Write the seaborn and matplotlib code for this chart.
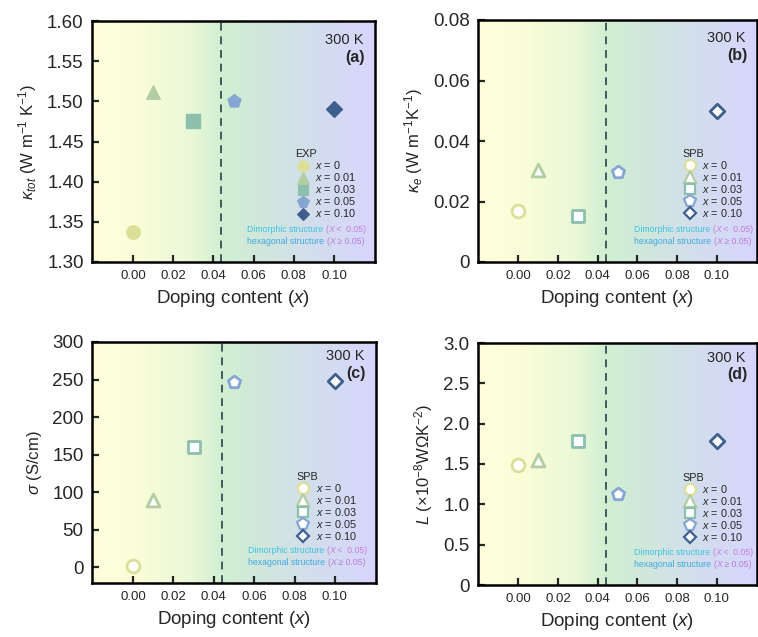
import numpy as np
import pandas as pd
import matplotlib
matplotlib.use("Agg")
import matplotlib.pyplot as plt
from matplotlib.colors import LinearSegmentedColormap
from matplotlib.lines import Line2D
from matplotlib.offsetbox import TextArea, HPacker, VPacker, AnchoredOffsetbox
import seaborn as sns

# ---------------- data ----------------
x_vals = [0.00, 0.01, 0.03, 0.05, 0.10]
x_labels = ["0", "0.01", "0.03", "0.05", "0.10"]
k_tot = [1.337, 1.512, 1.476, 1.500, 1.490]
k_e = [0.0168, 0.0305, 0.0152, 0.0297, 0.0500]
sigma = [1.0, 89.0, 160.0, 247.0, 248.0]
lorenz = [1.49, 1.55, 1.79, 1.13, 1.79]

marker_list = ["o", "^", "s", "p", "D"]
color_list = ["#DCDF98", "#B3CDA3", "#8CC0AD", "#85A6D2", "#3E5F8E"]

x_ticks = [0.00, 0.02, 0.04, 0.06, 0.08, 0.10]
x_ticklabels = ["0.00", "0.02", "0.04", "0.06", "0.08", "0.10"]

panels = [
    dict(vals=k_tot, ylabel=r"$\kappa_{tot}$ (W m$^{-1}$ K$^{-1}$)", ylim=(1.30, 1.60),
         yticks=[1.30, 1.35, 1.40, 1.45, 1.50, 1.55, 1.60],
         yticklabels=["1.30", "1.35", "1.40", "1.45", "1.50", "1.55", "1.60"],
         tag="(a)", title="EXP", filled=True),
    dict(vals=k_e, ylabel=r"$\kappa_e$ (W m$^{-1}$K$^{-1}$)", ylim=(0, 0.08),
         yticks=[0, 0.02, 0.04, 0.06, 0.08],
         yticklabels=["0", "0.02", "0.04", "0.06", "0.08"],
         tag="(b)", title="SPB", filled=False),
    dict(vals=sigma, ylabel=r"$\sigma$ (S/cm)", ylim=(-21, 300),
         yticks=[0, 50, 100, 150, 200, 250, 300],
         yticklabels=["0", "50", "100", "150", "200", "250", "300"],
         tag="(c)", title="SPB", filled=False),
    dict(vals=lorenz, ylabel=r"$L$ ($\times$10$^{-8}$W$\Omega$K$^{-2}$)", ylim=(0, 3.0),
         yticks=[0, 0.5, 1.0, 1.5, 2.0, 2.5, 3.0],
         yticklabels=["0", "0.5", "1.0", "1.5", "2.0", "2.5", "3.0"],
         tag="(d)", title="SPB", filled=False),
]

# ---------------- style ----------------
sns.set_theme(style="white")
plt.rcParams["font.family"] = ["Liberation Sans", "DejaVu Sans"]
plt.rcParams["mathtext.fontset"] = "custom"
plt.rcParams["mathtext.rm"] = "Liberation Sans"
plt.rcParams["mathtext.it"] = "Liberation Sans:italic"
plt.rcParams["mathtext.bf"] = "Liberation Sans:bold"

bg_cmap = LinearSegmentedColormap.from_list("bg", [
    (0.00, "#FFFFDC"), (0.15, "#FBFDD8"), (0.35, "#EAF8D7"), (0.46, "#D0EFD2"),
    (0.62, "#D1E6DE"), (0.80, "#D3DDEE"), (1.00, "#D7D6FE")])

fig = plt.figure(figsize=(7.58, 6.37), dpi=100)
W, H = 758, 637
boxes = [(92, 21, 375, 262), (478, 20, 757, 262), (92, 342, 376, 583), (478, 343, 757, 585)]
text_pos = [(0.92, 0.85), (0.925, 0.855), (0.94, 0.87), (0.94, 0.87)]
leg_anchor = [(0.70, 0.49), (0.715, 0.49), (0.70, 0.485), (0.715, 0.485)]
struct_x = [0.548, 0.559, 0.548, 0.559]
leg_msize = {"o": 8, "^": 8, "s": 7, "p": 8.5, "D": 6.5}

xlim = (-0.0204, 0.1204)
for k, (p, (l, t, r, b)) in enumerate(zip(panels, boxes)):
    ax = fig.add_axes([l / W, 1 - b / H, (r - l) / W, (b - t) / H])
    ylo, yhi = p["ylim"]
    grad = np.linspace(0, 1, 256).reshape(1, -1)
    ax.imshow(grad, cmap=bg_cmap, aspect="auto", extent=(xlim[0], xlim[1], ylo, yhi),
              zorder=0, interpolation="bilinear")
    ax.axvline(0.044, color="#46575C", lw=1.4, ls=(0, (4, 3)), zorder=1)

    df = pd.DataFrame({"x": x_vals, "y": p["vals"], "lab": x_labels})
    handles = []
    for i, row in df.iterrows():
        c = color_list[i]
        m = marker_list[i]
        if p["filled"]:
            fc, ec, lw = c, c, 1.0
            s = 95 if m != "D" else 65
        else:
            fc, ec, lw = "white", c, 2.0
            s = 85 if m != "D" else 55
        sns.scatterplot(x=[row["x"]], y=[row["y"]], marker=m, s=s, color=fc,
                        edgecolor=ec, linewidth=lw, ax=ax, zorder=3, legend=False)
        handles.append(Line2D([], [], ls="", marker=m, markersize=leg_msize[m],
                              markerfacecolor=fc, markeredgecolor=ec,
                              markeredgewidth=lw * 0.8, label=f"$x$ = {x_labels[i]}"))

    ax.set_xlim(*xlim)
    ax.set_ylim(ylo, yhi)
    ax.set_xticks(x_ticks)
    ax.set_xticklabels(x_ticklabels, fontsize=9.5)
    ax.set_yticks(p["yticks"])
    ax.set_yticklabels(p["yticklabels"], fontsize=13.5)
    ax.tick_params(direction="in", length=5, width=1.6, bottom=True, left=True,
                   top=False, right=False, pad=6)
    for sp in ax.spines.values():
        sp.set_linewidth(1.8)
        sp.set_color("black")
        sp.set_zorder(5)
    ax.set_xlabel("Doping content ($x$)", fontsize=13.5, labelpad=4)
    ax.set_ylabel(p["ylabel"], fontsize=12, labelpad=6)

    ty1, ty2 = text_pos[k]
    ax.text(0.96, ty1, "300 K", transform=ax.transAxes, ha="right", va="center",
            fontsize=10.5)
    ax.text(0.965, ty2, p["tag"], transform=ax.transAxes, ha="right", va="center",
            fontsize=11.5, fontweight="bold")

    ax.legend(handles=handles, title=p["title"], loc="upper left",
              bbox_to_anchor=leg_anchor[k], frameon=False, fontsize=7.8,
              title_fontsize=7.8, handletextpad=0.5, labelspacing=0.0,
              borderpad=0, handlelength=1.3, alignment="left")

    # structure annotation (multi-coloured lines)
    fs = 6.3
    def ta(s, color, italic=False):
        return TextArea(s, textprops=dict(color=color, fontsize=fs,
                                          fontstyle="italic" if italic else "normal"))
    line1 = HPacker(children=[ta("Dimorphic structure ", "#3EC4DD"),
                              ta("(", "#C57FD6"), ta("X", "#C57FD6", True),
                              ta(" <  0.05)", "#C57FD6")],
                    align="baseline", pad=0, sep=0)
    line2 = HPacker(children=[ta("hexagonal structure ", "#3FA9E0"),
                              ta("(", "#B87CDA"), ta("X", "#B87CDA", True),
                              ta(" \u2265 0.05)", "#B87CDA")],
                    align="baseline", pad=0, sep=0)
    box = VPacker(children=[line1, line2], align="left", pad=0, sep=2.2)
    anch = AnchoredOffsetbox(loc="lower left", child=box, pad=0, borderpad=0,
                             frameon=False, bbox_to_anchor=(struct_x[k], 0.065),
                             bbox_transform=ax.transAxes)
    ax.add_artist(anch)

fig.savefig("out.png", dpi=100)
